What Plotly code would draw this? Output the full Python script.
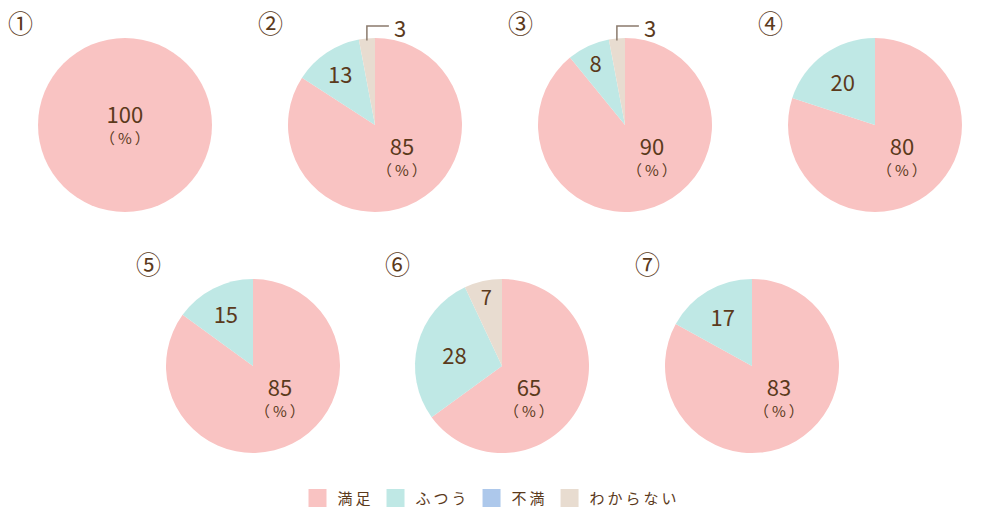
import numpy as np
import plotly.graph_objects as go

# 回答の区分（時計回りの並び）
labels = ["満足", "ふつう", "不満", "わからない"]
colors = ["#F9C3C2", "#BFE8E5", "#ADC8EB", "#E8DCD0"]

# 各設問の割合（%）
q1 = [100, 0, 0, 0]
q2 = [85, 13, 0, 3]
q3 = [90, 8, 0, 3]
q4 = [80, 20, 0, 0]
q5 = [85, 15, 0, 0]
q6 = [65, 28, 0, 7]
q7 = [83, 17, 0, 0]
marks = ["①", "②", "③", "④", "⑤", "⑥", "⑦"]

series = [q1, q2, q3, q4, q5, q6, q7]
# 外側に引き出し線で表示するスライス（設問番号: スライス番号）
callouts = {1: 3, 2: 3}

W, H = 1000, 520
R = 87
centers = [(125, 125), (375, 125), (625, 125), (875, 125),
           (253, 366), (502, 366), (752, 366)]
FONT = "Noto Sans CJK JP"
BROWN = "#5B3A1C"


def px(x, y):
    # ピクセル位置 -> paper座標
    return x / W, 1 - y / H


fig = go.Figure()

for i, (vals, (cx, cy)) in enumerate(zip(series, centers)):
    texts, pos = [], []
    for j, v in enumerate(vals):
        if v == 0 or j == 0 or callouts.get(i) == j:
            texts.append("")
            pos.append("none")
        else:
            texts.append(str(v))
            pos.append("inside")
    fig.add_trace(go.Pie(
        labels=labels, values=vals, text=texts, textinfo="text",
        textposition=pos, insidetextorientation="horizontal",
        textfont=dict(family=FONT, size=22, color=BROWN),
        marker=dict(colors=colors, line=dict(width=0)),
        sort=False, direction="clockwise", rotation=0,
        showlegend=False, hoverinfo="label+value",
        domain=dict(x=[(cx - R) / W, (cx + R) / W],
                    y=[1 - (cy + R) / H, 1 - (cy - R) / H]),
    ))

    # 満足の値と（%）を1つの注釈に（行送りは基準サイズ16pxで決まる）
    if vals[0] == sum(vals):
        nx_, ny_ = cx, cy - 10
    else:
        nx_, ny_ = cx + 27, cy + 22
    x, y = px(nx_, ny_ + 7)
    fig.add_annotation(
        x=x, y=y, xref="paper", yref="paper", xanchor="center", yanchor="middle",
        text=(f"<span style='font-size:22px'>{vals[0]}</span><br>"
              "<span style='font-size:15px'>（\u2009%\u2009）</span>"),
        showarrow=False, font=dict(family=FONT, size=16, color=BROWN),
    )

    # 設問番号
    x, y = px(cx - R - 18, cy - R - 16)
    fig.add_annotation(
        x=x, y=y, xref="paper", yref="paper", xanchor="center", yanchor="middle",
        text=marks[i], showarrow=False, font=dict(family=FONT, size=25, color=BROWN),
    )

    # 小さいスライスは引き出し線で
    if i in callouts:
        j = callouts[i]
        total = sum(vals)
        start = sum(vals[:j]) / total
        mid = 2 * np.pi * (start + vals[j] / total / 2)
        lx = cx + R * np.sin(mid)
        ly = cy - R * np.cos(mid)
        top = cy - R - 12
        fig.add_shape(type="path", xref="paper", yref="paper",
                      path=f"M{lx / W},{1 - (ly + 2) / H} L{lx / W},{1 - top / H} "
                           f"L{(lx + 22) / W},{1 - top / H}",
                      line=dict(color="#8A7A6C", width=1.5))
        x, y = px(lx + 25, top + 1)
        fig.add_annotation(
            x=x, y=y, xref="paper", yref="paper",
            xanchor="left", yanchor="middle", text=str(vals[j]), showarrow=False,
            font=dict(family=FONT, size=22, color=BROWN),
        )

# 凡例用のダミー
for name, c in zip(labels, colors):
    fig.add_trace(go.Scatter(
        x=[None], y=[None], mode="markers", name="\u2009".join(name),
        marker=dict(symbol="square", size=16, color=c, line=dict(width=2, color=c)),
    ))

fig.update_layout(
    width=W, height=H,
    margin=dict(l=0, r=0, t=0, b=0),
    paper_bgcolor="white", plot_bgcolor="white",
    xaxis=dict(visible=False), yaxis=dict(visible=False),
    legend=dict(orientation="h", x=0.49, xanchor="center", y=0.01, yanchor="bottom",
                font=dict(family=FONT, size=15, color=BROWN)),
)

fig.write_html("out.html", config={"displayModeBar": False},
               post_script="document.body.style.margin='0';")
